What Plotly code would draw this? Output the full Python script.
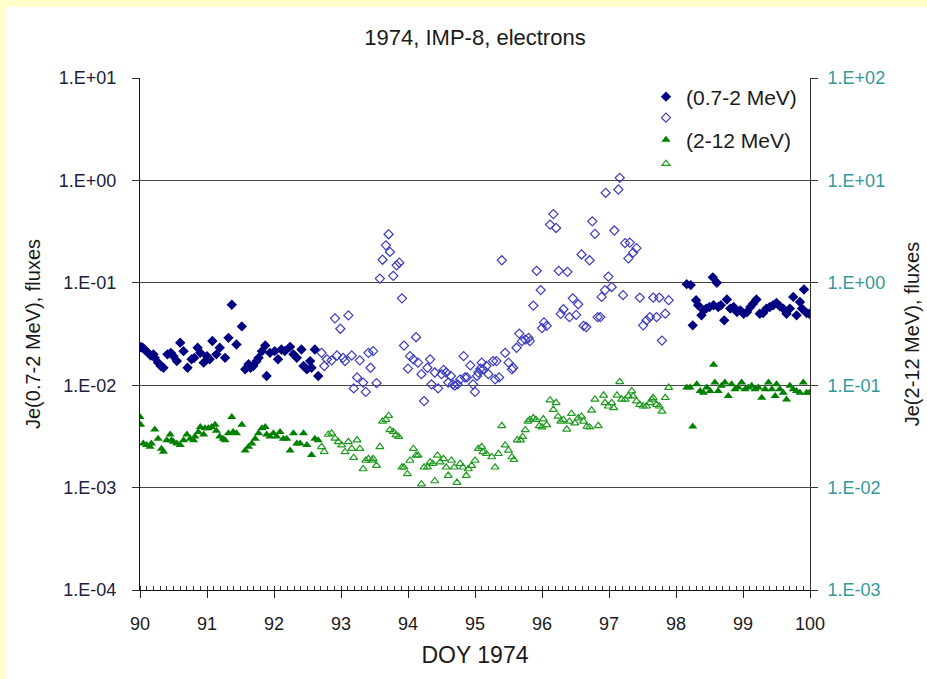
import plotly.graph_objects as go

# ---------------- data (DOY 1974, fluxes) ----------------
# 0.7-2 MeV electrons, left axis
blue_fill_doy_a = [90.00, 90.02, 90.04, 90.07, 90.12, 90.16, 90.20, 90.22, 90.27, 90.31,
                   90.35, 90.41, 90.46, 90.50, 90.55, 90.60, 90.65, 90.71, 90.77, 90.81,
                   90.86, 90.90, 90.95, 91.00, 91.04, 91.08, 91.14, 91.19, 91.27, 91.32,
                   91.37, 91.44, 91.52, 91.57, 91.62, 91.65, 91.69, 91.74, 91.77, 91.82,
                   91.87, 91.89, 91.94, 92.01, 92.06, 92.11, 92.16, 92.24, 92.29, 92.34,
                   92.41, 92.44, 92.49, 92.54, 92.56, 92.61, 92.66]
blue_fill_flux_a = [0.0235, 0.0235, 0.0232, 0.0223, 0.0207, 0.0195, 0.0200, 0.0185, 0.0166, 0.0154,
                    0.0148, 0.0200, 0.0207, 0.0192, 0.0172, 0.026, 0.0215, 0.0148, 0.0179, 0.0185,
                    0.0232, 0.0207, 0.0166, 0.0192, 0.0179, 0.027, 0.0200, 0.0232, 0.0185, 0.029,
                    0.061, 0.025, 0.0375, 0.0143, 0.016, 0.0148, 0.0154, 0.0172, 0.0185, 0.0215,
                    0.0244, 0.0123, 0.0207, 0.0215, 0.0179, 0.0223, 0.0215, 0.0237, 0.0200, 0.0185,
                    0.0223, 0.0154, 0.0143, 0.0172, 0.0148, 0.0223, 0.0123]
blue_fill_doy_c = [98.16, 98.22, 98.25, 98.30, 98.33, 98.38, 98.41, 98.45, 98.50, 98.55,
                   98.56, 98.61, 98.63, 98.67, 98.72, 98.76, 98.81, 98.86, 98.91, 98.96,
                   99.01, 99.06, 99.11, 99.15, 99.20, 99.25, 99.30, 99.35, 99.40, 99.45,
                   99.50, 99.55, 99.60, 99.65, 99.70, 99.75, 99.80, 99.85, 99.88, 99.91,
                   99.95, 99.99]
blue_fill_flux_c = [0.097, 0.095, 0.0384, 0.0676, 0.0603, 0.0481, 0.0538, 0.056, 0.058, 0.113,
                    0.0603, 0.100, 0.058, 0.0603, 0.043, 0.0686, 0.056, 0.058, 0.0519, 0.0538,
                    0.0499, 0.0519, 0.058, 0.0626, 0.0686, 0.0499, 0.0507, 0.056, 0.058, 0.0603,
                    0.0636, 0.059, 0.056, 0.0499, 0.056, 0.0728, 0.0481, 0.065, 0.056, 0.086,
                    0.0507, 0.0499]
blue_open_doy = [92.71, 92.75, 92.79,
                 92.86, 92.91, 92.94, 92.99, 93.03, 93.06, 93.11, 93.16, 93.19, 93.24,
                 93.28, 93.33, 93.37, 93.41, 93.44, 93.48, 93.53, 93.58, 93.62, 93.67,
                 93.71, 93.73, 93.78, 93.83, 93.87, 93.91, 93.94, 94.00, 94.03, 94.08,
                 94.12, 94.15, 94.20, 94.24, 94.29, 94.33, 94.35, 94.40, 94.45, 94.50,
                 94.53, 94.57, 94.60, 94.64, 94.67, 94.70, 94.74, 94.78, 94.83, 94.85,
                 94.88, 94.93, 94.97, 95.00, 95.03, 95.05, 95.08,
                 95.10, 95.12, 95.17, 95.20, 95.27, 95.30, 95.32, 95.36, 95.40, 95.45,
                 95.50, 95.55, 95.57, 95.62, 95.66, 95.70, 95.75, 95.80, 95.82, 95.87,
                 95.92, 95.98, 96.00, 96.03, 96.07, 96.12, 96.17, 96.21, 96.25, 96.28,
                 96.32, 96.38, 96.41, 96.46, 96.51, 96.54, 96.59, 96.62, 96.66, 96.71,
                 96.75, 96.79, 96.83,
                 96.87, 96.89, 96.94, 96.95, 96.99, 97.04, 97.08, 97.14, 97.16, 97.21,
                 97.24, 97.29, 97.31, 97.36, 97.41, 97.46, 97.51, 97.56, 97.61, 97.66,
                 97.71, 97.75, 97.79, 97.84, 97.89]
blue_open_flux = [0.0207, 0.0154, 0.0179,
                  0.0175, 0.045, 0.0195, 0.0356, 0.0185, 0.0172, 0.048, 0.0195, 0.0093, 0.0119,
                  0.0175, 0.0106, 0.0086, 0.0207, 0.0148, 0.0215, 0.0105, 0.110, 0.168, 0.232,
                  0.298, 0.200, 0.117, 0.148, 0.157, 0.0705, 0.0244, 0.0145, 0.0192, 0.0179,
                  0.0294, 0.0166, 0.0128, 0.0070, 0.0148, 0.0179, 0.0102, 0.0133, 0.0093, 0.0128,
                  0.0141, 0.0133, 0.0106, 0.0123, 0.0102, 0.0099, 0.0102, 0.0114, 0.0192, 0.0119,
                  0.0119, 0.0156, 0.0102, 0.0086, 0.0123, 0.0133, 0.0145,
                  0.0166, 0.0143, 0.0154, 0.0128, 0.0172, 0.0114, 0.0172, 0.0119, 0.166, 0.0207,
                  0.0166, 0.0143, 0.0148, 0.0232, 0.0319, 0.0269, 0.0279, 0.0289, 0.0269, 0.0599,
                  0.131, 0.085, 0.0361, 0.041, 0.038, 0.370, 0.469, 0.343, 0.131, 0.0497,
                  0.0552, 0.128, 0.0462, 0.0705, 0.0486, 0.0617, 0.189, 0.038, 0.037, 0.166,
                  0.398, 0.30, 0.0462,
                  0.0463, 0.0728, 0.0847, 0.757, 0.115, 0.091, 0.324, 0.815, 1.06, 0.0757,
                  0.244, 0.173, 0.247, 0.197, 0.218, 0.0718, 0.0384, 0.043, 0.0463, 0.0718,
                  0.0463, 0.0718, 0.0273, 0.0499, 0.0676]

# 2-12 MeV electrons, right axis
green_fill_doy_a = [90.00, 90.01, 90.05, 90.10, 90.15, 90.17, 90.22, 90.27, 90.32, 90.35,
                    90.40, 90.45, 90.47, 90.50, 90.55, 90.60, 90.65, 90.70, 90.75, 90.80,
                    90.82, 90.87, 90.90, 90.95, 90.97, 91.02, 91.07, 91.12, 91.14, 91.19,
                    91.24, 91.27, 91.32, 91.37, 91.39, 91.44, 91.52, 91.57, 91.62, 91.67,
                    91.72, 91.77, 91.82, 91.87, 91.89, 91.94, 91.99, 92.04, 92.09, 92.14,
                    92.19, 92.24, 92.29, 92.34, 92.39, 92.44, 92.49, 92.56, 92.61, 92.66]
green_fill_flux_a = [0.049, 0.041, 0.027, 0.026, 0.025, 0.027, 0.037, 0.030, 0.024, 0.0224,
                     0.029, 0.033, 0.029, 0.028, 0.027, 0.026, 0.029, 0.033, 0.030, 0.029,
                     0.0315, 0.035, 0.039, 0.033, 0.038, 0.038, 0.039, 0.041, 0.036, 0.0315,
                     0.030, 0.029, 0.034, 0.049, 0.035, 0.034, 0.041, 0.023, 0.025, 0.027,
                     0.030, 0.034, 0.038, 0.039, 0.033, 0.0315, 0.034, 0.0315, 0.035, 0.030,
                     0.030, 0.023, 0.034, 0.027, 0.027, 0.034, 0.026, 0.0208, 0.030, 0.029]
green_fill_doy_c = [98.16, 98.21, 98.25, 98.31, 98.36, 98.41, 98.46, 98.51, 98.56, 98.58,
                    98.63, 98.68, 98.73, 98.78, 98.83, 98.88, 98.93, 98.98, 99.03, 99.08,
                    99.13, 99.18, 99.23, 99.28, 99.33, 99.38, 99.43, 99.48, 99.50, 99.55,
                    99.60, 99.65, 99.70, 99.75, 99.80, 99.85, 99.90, 99.95, 99.99]
green_fill_flux_c = [0.0948, 0.0948, 0.0395, 0.102, 0.0878, 0.0845, 0.0948, 0.0878, 0.158, 0.106,
                     0.0878, 0.0985, 0.106, 0.0783, 0.102, 0.0912, 0.0948, 0.106, 0.0912, 0.0948,
                     0.0985, 0.0912, 0.0948, 0.0754, 0.0912, 0.106, 0.0912, 0.0783, 0.102, 0.0912,
                     0.0845, 0.0726, 0.0985, 0.0912, 0.0878, 0.0845, 0.106, 0.0845, 0.0845]
green_open_doy = [92.71, 92.75, 92.81,
                  92.86, 92.91, 92.96, 93.01, 93.06, 93.11, 93.16, 93.19, 93.24, 93.28,
                  93.33, 93.37, 93.41, 93.46, 93.48, 93.53, 93.58, 93.62, 93.67, 93.71,
                  93.73, 93.78, 93.82, 93.86, 93.91, 93.94, 93.99, 94.03, 94.08, 94.12,
                  94.15, 94.20, 94.24, 94.29, 94.33, 94.37, 94.40, 94.44, 94.48, 94.53,
                  94.57, 94.60, 94.65, 94.69, 94.73, 94.78, 94.82, 94.87, 94.90, 94.95,
                  95.00, 95.05,
                  95.10, 95.12, 95.17, 95.25, 95.30, 95.35, 95.40, 95.45, 95.50, 95.55,
                  95.58, 95.63, 95.68, 95.71, 95.75, 95.79, 95.82, 95.87, 95.91, 95.96,
                  96.00, 96.02, 96.07, 96.12, 96.17, 96.21, 96.24, 96.28, 96.32, 96.37,
                  96.41, 96.44, 96.49, 96.54, 96.59, 96.62, 96.67, 96.71, 96.74, 96.79,
                  96.84,
                  96.92, 96.94, 96.99, 97.04, 97.07, 97.12, 97.16, 97.19, 97.24, 97.29,
                  97.34, 97.36, 97.41, 97.46, 97.51, 97.56, 97.61, 97.64, 97.66, 97.71,
                  97.75, 97.79, 97.84, 97.89]
green_open_flux = [0.025, 0.0224, 0.033,
                   0.0339, 0.0302, 0.028, 0.026, 0.0223, 0.028, 0.024, 0.0196, 0.0291, 0.024,
                   0.0152, 0.0184, 0.0191, 0.0184, 0.0191, 0.0164, 0.025, 0.0443, 0.046, 0.0504,
                   0.0366, 0.0352, 0.0326, 0.0314, 0.0158, 0.0158, 0.0136, 0.0184, 0.024, 0.0206,
                   0.0206, 0.0108, 0.0158, 0.0158, 0.0177, 0.0171, 0.0116, 0.0206, 0.0177, 0.0191,
                   0.0158, 0.0131, 0.0184, 0.0158, 0.0112, 0.0171, 0.0158, 0.0131, 0.0152, 0.0164,
                   0.0184, 0.024,
                   0.025, 0.0223, 0.0214, 0.0199, 0.0158, 0.0214, 0.0401, 0.026, 0.0231, 0.0199,
                   0.0187, 0.0291, 0.0291, 0.0314, 0.0366, 0.0443, 0.046, 0.0478, 0.046, 0.0401,
                   0.0389, 0.0467, 0.041, 0.0715, 0.0578, 0.0673, 0.0496, 0.0443, 0.046, 0.0371,
                   0.0443, 0.0527, 0.0426, 0.0478, 0.0496, 0.0443, 0.0395, 0.0389, 0.0569, 0.0726,
                   0.0401,
                   0.0796, 0.0673, 0.0623, 0.0673, 0.060, 0.0796, 0.108, 0.0726, 0.0726, 0.0783,
                   0.0878, 0.0783, 0.0699, 0.0647, 0.0623, 0.0623, 0.0673, 0.0726, 0.0754, 0.0647,
                   0.0623, 0.0556, 0.0754, 0.0948]

x_ticks = [90, 91, 92, 93, 94, 95, 96, 97, 98, 99, 100]
left_tickvals = [1e-4, 1e-3, 1e-2, 1e-1, 1e0, 1e1]
left_ticktext = ["1.E-04", "1.E-03", "1.E-02", "1.E-01", "1.E+00", "1.E+01"]
right_tickvals = [1e-3, 1e-2, 1e-1, 1e0, 1e1, 1e2]
right_ticktext = ["1.E-03", "1.E-02", "1.E-01", "1.E+00", "1.E+01", "1.E+02"]

# ---------------- figure ----------------
FONT = "Liberation Sans, Arial, sans-serif"
NAVY = "#000080"
BLUE_OPEN = "#3c3cc0"
GREEN = "#008000"
GREEN_OPEN = "#1f9a1f"
TEAL = "#339999"
TXT = "#1a1a1a"

L, R, T, B = 140, 117, 78, 89
PW, PH = 927 - L - R, 679 - T - B

fig = go.Figure()
fig.add_trace(go.Scatter(
    x=blue_fill_doy_a + blue_fill_doy_c, y=blue_fill_flux_a + blue_fill_flux_c,
    mode="markers", name="(0.7-2 MeV)", yaxis="y", legend="legend",
    marker=dict(symbol="diamond", size=8, color=NAVY, line=dict(width=0))))
fig.add_trace(go.Scatter(
    x=blue_open_doy, y=blue_open_flux, mode="markers", name=" ", yaxis="y", legend="legend2",
    marker=dict(symbol="diamond-open", size=7, color=BLUE_OPEN, line=dict(width=1.2, color=BLUE_OPEN))))
fig.add_trace(go.Scatter(
    x=green_fill_doy_a + green_fill_doy_c, y=green_fill_flux_a + green_fill_flux_c,
    mode="markers", name="(2-12 MeV)", yaxis="y2", legend="legend3",
    marker=dict(symbol="triangle-up", size=8, color=GREEN, line=dict(width=0))))
fig.add_trace(go.Scatter(
    x=green_open_doy, y=green_open_flux, mode="markers", name=" ", yaxis="y2", legend="legend4",
    marker=dict(symbol="triangle-up-open", size=7, color=GREEN_OPEN, line=dict(width=1.2, color=GREEN_OPEN))))


def legend_at(center_px):
    return dict(x=(646 - L) / PW, xanchor="left", y=(590 - center_px) / PH, yanchor="middle",
                bgcolor="rgba(0,0,0,0)", font=dict(size=21, color=TXT), itemwidth=30)


fig.update_layout(
    width=927, height=679,
    margin=dict(l=L, r=R, t=T, b=B, autoexpand=False),
    paper_bgcolor="#FFFFCC",
    plot_bgcolor="white",
    font=dict(family=FONT, size=18, color=TXT),
    title=dict(text="1974, IMP-8, electrons", x=475 / 927, xanchor="center",
               y=1 - 37 / 679, yanchor="middle", font=dict(size=22, color=TXT)),
    showlegend=True,
    legend=legend_at(97),
    legend2=legend_at(118),
    legend3=legend_at(140),
    legend4=legend_at(164),
    xaxis=dict(
        range=[90, 100], tickvals=x_ticks, ticktext=[str(v) for v in x_ticks],
        ticks="outside", ticklen=7, tickcolor="#222", tickwidth=1,
        ticklabelstandoff=10,
        showline=True, linecolor="#111", linewidth=1, showgrid=False, zeroline=False,
        minor=dict(tick0=90, dtick=0.1, ticks="inside", ticklen=4, tickcolor="#333", showgrid=False),
        title=dict(text="DOY 1974", font=dict(size=23, color=TXT), standoff=14),
        tickfont=dict(size=18, color=TXT),
    ),
    yaxis=dict(
        type="log", range=[-4, 1], tickvals=left_tickvals, ticktext=left_ticktext,
        ticks="outside", ticklen=7, tickcolor="#333", ticklabelstandoff=12,
        showline=True, linecolor="#111", linewidth=1,
        showgrid=True, gridcolor="#454545", gridwidth=1, zeroline=False,
        tickfont=dict(size=18, color="#202040"),
        title=dict(text="Je(0.7-2 MeV), fluxes", font=dict(size=20, color=TXT), standoff=12),
    ),
    yaxis2=dict(
        type="log", range=[-3, 2], tickvals=right_tickvals, ticktext=right_ticktext,
        overlaying="y", side="right",
        ticks="outside", ticklen=7, tickcolor="#333", ticklabelstandoff=6,
        showline=True, linecolor="#333", linewidth=1, showgrid=False, zeroline=False,
        tickfont=dict(size=18, color=TEAL),
        title=dict(text="Je(2-12 MeV), fluxes", font=dict(size=20, color=TXT), standoff=20),
    ),
    shapes=[dict(type="rect", xref="paper", yref="paper", layer="below",
                 x0=(6 - L) / PW, x1=(927 + 20 - L) / PW,
                 y0=-(B + 20) / PH, y1=1 + (T - 7) / PH,
                 fillcolor="white", line=dict(width=0))],
)

fig.write_html("out.html")
